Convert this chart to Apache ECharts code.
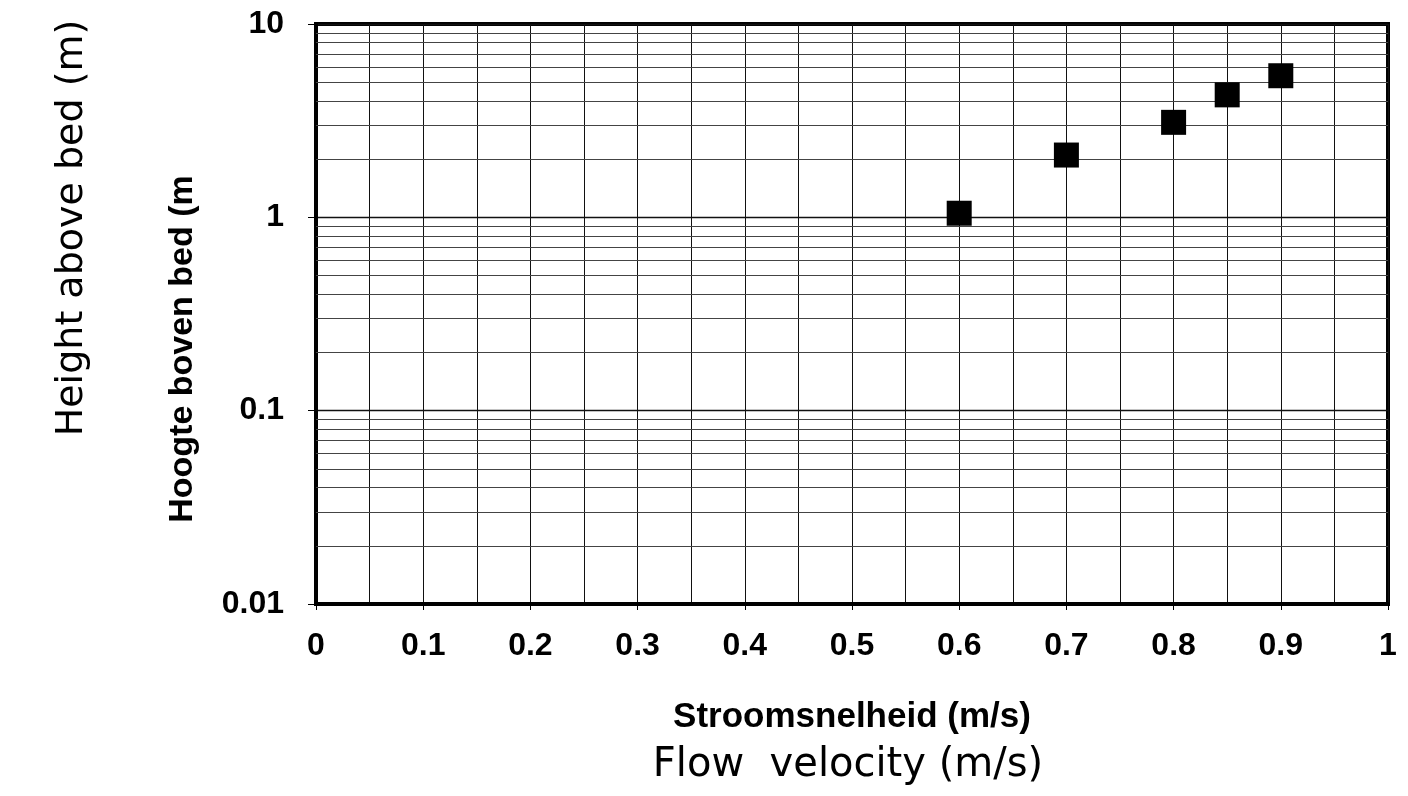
<!DOCTYPE html>
<html>
<head>
<meta charset="utf-8">
<script src="https://cdn.jsdelivr.net/npm/echarts@6/dist/echarts.min.js"></script>
<style>html,body{margin:0;padding:0;background:#fff;}#c{width:1408px;height:796px;}</style>
</head>
<body>
<div id="c"></div>
<script>
const velocity = [0.6, 0.7, 0.8, 0.85, 0.9];
const height = [1.05, 2.1, 3.1, 4.3, 5.4];
const minorGridY = [0.02,0.03,0.04,0.05,0.06,0.07,0.08,0.09,0.2,0.3,0.4,0.5,0.6,0.7,0.8,0.9,2,3,4,5,6,7,8,9];
const xTitle = 'Stroomsnelheid (m/s)';
const yTitle = 'Hoogte boven bed (m';
const handX = 'Flow  velocity (m/s)';
const handY = 'Height above bed (m)';

const chart = echarts.init(document.getElementById('c'));
const bold = {fontFamily: 'Liberation Sans, Arial, sans-serif', fontWeight: 'bold', color: '#000'};
chart.setOption({
  animation: false,
  backgroundColor: '#fff',
  grid: {left: 316, right: 20, top: 24, bottom: 192, show: true, borderColor: '#000', borderWidth: 4},
  xAxis: {
    type: 'value', min: 0, max: 1, interval: 0.1,
    axisLine: {show: true, lineStyle: {color: '#000', width: 4}},
    axisTick: {show: true, length: 6, lineStyle: {color: '#000', width: 1}},
    axisLabel: Object.assign({fontSize: 32, margin: 26}, bold),
    splitLine: {show: true, lineStyle: {color: '#111', width: 1}},
    minorTick: {show: false, splitNumber: 2},
    minorSplitLine: {show: true, lineStyle: {color: '#111', width: 1}},
    name: xTitle, nameLocation: 'middle', nameGap: 96,
    nameTextStyle: Object.assign({fontSize: 35}, bold)
  },
  yAxis: {
    type: 'log', logBase: 10, min: 0.01, max: 10,
    axisLine: {show: true, lineStyle: {color: '#000', width: 4}},
    axisTick: {show: true, length: 8, lineStyle: {color: '#000', width: 1}},
    axisLabel: Object.assign({fontSize: 32, margin: 32}, bold),
    splitLine: {show: true, lineStyle: {color: '#111', width: 1.3}}
  },
  graphic: [
    {type: 'text', x: 183, y: 349, rotation: Math.PI / 2,
      style: {text: yTitle, fontSize: 34, fontFamily: 'Liberation Sans, Arial, sans-serif', fontWeight: 'bold', textAlign: 'center', textVerticalAlign: 'middle', fill: '#000'}},
    {type: 'text', x: 72, y: 228, rotation: Math.PI / 2,
      style: {text: handY, fontSize: 38, fontFamily: 'DejaVu Sans', fontWeight: 'normal', textAlign: 'center', textVerticalAlign: 'middle', fill: '#000'}},
    {type: 'text', x: 848, y: 766,
      style: {text: handX, fontSize: 40, fontFamily: 'DejaVu Sans', fontWeight: 'normal', textAlign: 'center', textVerticalAlign: 'middle', fill: '#000'}}
  ],
  series: [
    {
      type: 'scatter', silent: true, data: [], z: 1,
      markLine: {
        silent: true, symbol: 'none', label: {show: false},
        lineStyle: {color: '#444', width: 1, type: 'solid'},
        data: minorGridY.map(v => ({yAxis: v}))
      }
    },
    {
      type: 'scatter', z: 5, symbol: 'rect', symbolSize: 25,
      itemStyle: {color: '#000', opacity: 1},
      data: velocity.map((v, i) => [v, height[i]])
    }
  ]
});
</script>
</body>
</html>
